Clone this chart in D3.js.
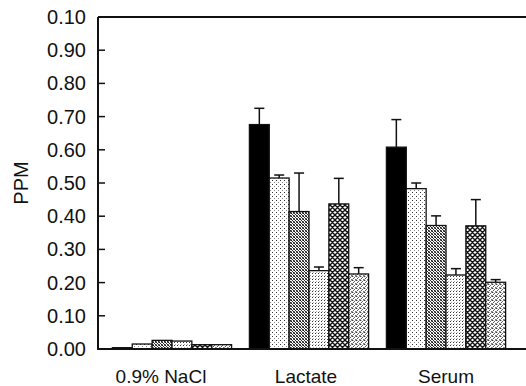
<!DOCTYPE html>
<html>
<head>
<meta charset="utf-8">
<script src="https://cdn.jsdelivr.net/npm/d3@7"></script>
<style>
  body { margin: 0; background: #fff; }
  text { font-family: "Liberation Sans", Arial, sans-serif; fill: #111; }
</style>
</head>
<body>
<div id="chart"></div>
<script>
// datos
const categories = ["0.9% NaCl", "Lactate", "Serum"];
const seriesKeys = ["s1", "s2", "s3", "s4", "s5", "s6"];
const s1 = [0.004, 0.676, 0.608];
const s2 = [0.015, 0.515, 0.483];
const s3 = [0.026, 0.414, 0.372];
const s4 = [0.024, 0.236, 0.223];
const s5 = [0.013, 0.437, 0.371];
const s6 = [0.013, 0.226, 0.201];
// error superior (solo hacia arriba)
const e1 = [0, 0.049, 0.083];
const e2 = [0, 0.009, 0.017];
const e3 = [0, 0.116, 0.029];
const e4 = [0, 0.011, 0.019];
const e5 = [0, 0.077, 0.079];
const e6 = [0, 0.019, 0.008];
const tickValues = [0, 0.1, 0.2, 0.3, 0.4, 0.5, 0.6, 0.7, 0.8, 0.9, 1.0];
const tickLabels = ["0.00", "0.10", "0.20", "0.30", "0.40", "0.50", "0.60", "0.70", "0.80", "0.90", "0.10"];

const means = [s1, s2, s3, s4, s5, s6];
const errs = [e1, e2, e3, e4, e5, e6];

const width = 526, height = 386;
const mLeft = 98, mTop = 17, mBottom = 349;

const svg = d3.select("#chart").append("svg")
  .attr("width", width)
  .attr("height", height);

// patrones de relleno
const defs = svg.append("defs");
function pat(id, size, draw) {
  const p = defs.append("pattern")
    .attr("id", id)
    .attr("patternUnits", "userSpaceOnUse")
    .attr("width", size).attr("height", size);
  p.append("rect").attr("width", size).attr("height", size).attr("fill", "#fff");
  draw(p);
}
function dot(p, x, y, c) {
  p.append("rect").attr("x", x).attr("y", y).attr("width", 1).attr("height", 1).attr("fill", c);
}
// puntos dispersos
pat("p2", 4, p => {
  dot(p, 0, 0, "#333");
  dot(p, 2, 2, "#888");
});
// trama densa oscura
pat("p3", 3, p => {
  dot(p, 0, 0, "#111");
  dot(p, 1, 1, "#333");
  dot(p, 2, 2, "#222");
  dot(p, 2, 0, "#666");
  dot(p, 0, 2, "#777");
});
// puntos en filas
pat("p4", 3, p => {
  dot(p, 0, 0, "#333");
  dot(p, 1, 2, "#aaa");
});
// cuadricula diagonal (rombos)
pat("p5", 5, p => {
  p.append("path").attr("d", "M0,0L5,5M5,0L0,5M-1,4L1,6M4,-1L6,1M4,6L6,4M-1,1L1,-1")
    .attr("stroke", "#111").attr("stroke-width", 1.4);
});
// gris punteado fino
pat("p6", 4, p => {
  dot(p, 0, 0, "#444");
  dot(p, 2, 1, "#666");
  dot(p, 1, 2, "#555");
  dot(p, 3, 3, "#777");
  dot(p, 3, 0, "#999");
  dot(p, 1, 0, "#bbb");
  dot(p, 0, 3, "#999");
});
const fills = ["#000", "url(#p2)", "url(#p3)", "url(#p4)", "url(#p5)", "url(#p6)"];

// escalas
const x0 = d3.scaleBand()
  .domain(categories)
  .range([mLeft, 520])
  .paddingInner(0.13)
  .paddingOuter(0.105);

const x1 = d3.scaleBand()
  .domain(seriesKeys)
  .range([0, x0.bandwidth()]);

const y = d3.scaleLinear().domain([0, 1]).range([mBottom, mTop]);

// barras
const rows = [];
categories.forEach((c, ci) => {
  seriesKeys.forEach((k, si) => {
    rows.push({cat: c, key: k, si: si, v: means[si][ci], e: errs[si][ci]});
  });
});

const g = svg.append("g");
const cx = d => x0(d.cat) + x1(d.key) + x1.bandwidth() / 2;

// barras de error
g.selectAll(".err")
  .data(rows.filter(d => d.e > 0))
  .enter().append("line")
  .attr("class", "err")
  .attr("x1", cx).attr("x2", cx)
  .attr("y1", d => y(d.v))
  .attr("y2", d => y(d.v + d.e))
  .attr("stroke", "#111").attr("stroke-width", 1.5);

g.selectAll(".cap")
  .data(rows.filter(d => d.e > 0))
  .enter().append("line")
  .attr("class", "cap")
  .attr("x1", d => cx(d) - 5)
  .attr("x2", d => cx(d) + 5)
  .attr("y1", d => y(d.v + d.e))
  .attr("y2", d => y(d.v + d.e))
  .attr("stroke", "#111").attr("stroke-width", 1.5);

g.selectAll(".bar")
  .data(rows)
  .enter().append("rect")
  .attr("class", "bar")
  .attr("x", d => x0(d.cat) + x1(d.key))
  .attr("y", d => y(d.v))
  .attr("width", x1.bandwidth())
  .attr("height", d => y(0) - y(d.v))
  .attr("fill", d => fills[d.si])
  .attr("stroke", "#111")
  .attr("stroke-width", 1.3);

// eje y
const yAxis = d3.axisLeft(y)
  .tickValues(tickValues)
  .tickSize(0)
  .tickPadding(12)
  .tickFormat((d, i) => tickLabels[i]);

const ax = svg.append("g")
  .attr("transform", `translate(${mLeft},0)`)
  .call(yAxis);
ax.select(".domain").remove();
ax.selectAll("text")
  .style("font-size", "20px")
  .attr("fill", "#111");

// marcas hacia adentro
svg.selectAll(".tick-in")
  .data(tickValues.slice(1, -1))
  .enter().append("line")
  .attr("x1", mLeft).attr("x2", mLeft + 7)
  .attr("y1", d => y(d)).attr("y2", d => y(d))
  .attr("stroke", "#111").attr("stroke-width", 1.5);

// lineas del marco
svg.append("line").attr("x1", mLeft).attr("x2", mLeft).attr("y1", mTop).attr("y2", mBottom + 1)
  .attr("stroke", "#111").attr("stroke-width", 2);
svg.append("line").attr("x1", mLeft).attr("x2", width).attr("y1", mTop).attr("y2", mTop)
  .attr("stroke", "#111").attr("stroke-width", 2);
svg.append("line").attr("x1", mLeft).attr("x2", width).attr("y1", mBottom).attr("y2", mBottom)
  .attr("stroke", "#111").attr("stroke-width", 2.2);

// etiquetas de categorias
const labelShift = [-11, -3, 0];
svg.selectAll(".cat")
  .data(categories)
  .enter().append("text")
  .attr("class", "cat")
  .attr("x", (d, i) => x0(d) + x0.bandwidth() / 2 + labelShift[i])
  .attr("y", 383)
  .attr("text-anchor", "middle")
  .style("font-size", "19px")
  .text(d => d);

// titulo eje y
svg.append("text")
  .attr("transform", "translate(28,183) rotate(-90)")
  .attr("text-anchor", "middle")
  .style("font-size", "20px")
  .text("PPM");
</script>
</body>
</html>
